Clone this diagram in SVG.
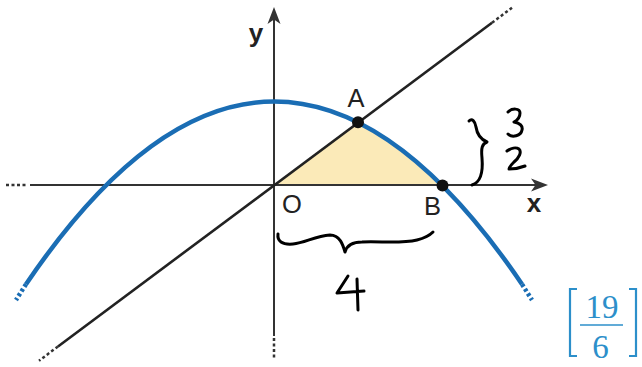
<svg xmlns="http://www.w3.org/2000/svg" width="642" height="367" viewBox="0 0 642 367">
<style>
.axis{stroke:#333;stroke-width:2;fill:none}
.dotk{stroke:#333;stroke-width:2.5;fill:none;stroke-dasharray:3 2.5}
.lin{stroke:#222;stroke-width:2.6;fill:none}
.par{stroke:#1a6db4;stroke-width:4.5;fill:none}
.dotb{stroke:#1a6db4;stroke-width:4.5;fill:none;stroke-dasharray:3 2.5}
.hand{stroke:#000;stroke-width:3;fill:none;stroke-linecap:round;stroke-linejoin:round}
.lbl{font-family:"Liberation Sans",Arial,sans-serif;font-size:25.5px;fill:#222;text-anchor:middle}
.axl{font-family:"Liberation Sans",Arial,sans-serif;font-size:26px;font-weight:bold;fill:#222;text-anchor:middle}
.br{stroke:#2c8fca;stroke-width:2.2;fill:none}
.frac{font-family:"Liberation Serif","Times New Roman",serif;font-size:33px;fill:#2c8fca;text-anchor:middle}
</style>
<rect width="642" height="367" fill="#fff"/>
<g id="region">
<path d="M274,185 L357.9,122.4 Q399.8,143.3 441.7,185 Z" fill="#fbeab8"/>
</g>
<g id="axes">
<line class="axis" x1="30" y1="185" x2="538" y2="185"/>
<line class="dotk" x1="6" y1="185" x2="28" y2="185"/>
<polygon points="548,185 531,178.5 535.5,185 531,191.5" fill="#333"/>
<line class="axis" x1="274" y1="336" x2="274" y2="18"/>
<line class="dotk" x1="274" y1="338" x2="274" y2="358"/>
<polygon points="274,7 267.5,24 274,19.5 280.5,24" fill="#333"/>
</g>
<g id="line">
<line class="lin" x1="58" y1="346.5" x2="492" y2="22.7"/>
<line class="dotk" x1="492" y1="22.7" x2="512" y2="7.8"/>
<line class="dotk" x1="58" y1="346.5" x2="39" y2="360.7"/>
</g>
<g id="parabola">
<path class="par" d="M26,284.2 Q274,-81.1 522,284.2"/>
<line class="dotb" x1="26" y1="284.2" x2="16" y2="300"/>
<line class="dotb" x1="522" y1="284.2" x2="532" y2="300"/>
</g>
<g id="points">
<circle id="A" cx="358" cy="122.3" r="6" fill="#111"/>
<circle id="B" cx="442.5" cy="185.5" r="6" fill="#111"/>
</g>
<g id="labels">
<text class="axl" x="256" y="42">y</text>
<text class="axl" x="534" y="212">x</text>
<text class="lbl" x="292" y="212.5">O</text>
<text class="lbl" x="432.5" y="214.5">B</text>
<text class="lbl" x="356" y="107">A</text>
</g>
<g id="annotations">
<path class="hand" d="M278,234 C277,241 282,245 293,244 C305,243 315,236 330,235 C340,235 343,245 345,252 C347,245 352,242 362,242 C380,241 400,244 417,240 C425,238 430,235 433,232"/>
<path class="hand" d="M348,276 L337,293 L364,291 M357,279 L358,310"/>
<path class="hand" d="M469,121 C472,118 475,121 476,127 C477,134 480,139 487,142 C482,144 481,148 482,158 C483,170 482,182 472,185"/>
<path class="hand" d="M508,112 C512,108 520,108 520,113 C520,118 516,121 514,122 C520,123 523,126 522,130 C521,136 512,138 508,134"/>
<path class="hand" d="M507,151 C511,148 516,147 519,149 C522,152 519,158 514,162 C511,165 509,167 509,169 C514,169 520,168 525,166"/>
</g>
<g id="answer">
<path class="br" d="M577,289 L570,289 L570,356 L577,356"/>
<path class="br" d="M629,289 L636,289 L636,356 L629,356"/>
<text class="frac" x="602" y="318">19</text>
<line x1="580" y1="325" x2="623" y2="325" stroke="#2c8fca" stroke-width="1.6"/>
<text class="frac" x="600.5" y="357.5">6</text>
</g>
</svg>
